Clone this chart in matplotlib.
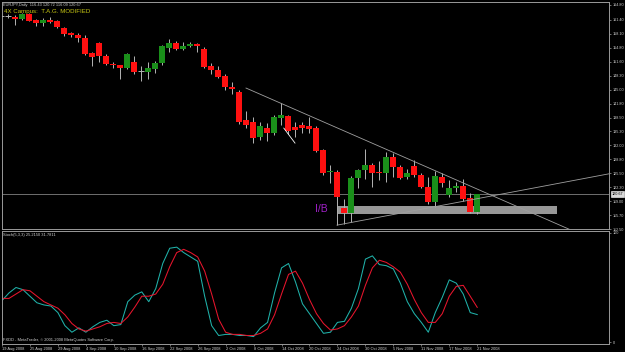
import matplotlib.pyplot as plt
import matplotlib.transforms as mtransforms
from matplotlib.patches import Rectangle

# EURJPY daily bars, 19 Aug 2008 .. 21 Nov 2008
opens = [162.23, 162.23, 162.00, 161.53, 162.70, 161.30, 160.59, 161.30, 161.06, 159.43,
         158.26, 157.79, 157.09, 153.59, 155.92, 152.88, 151.01, 150.78, 150.08, 151.48,
         149.38, 149.15, 149.85, 151.25, 154.75, 155.92, 154.52, 155.22, 155.69, 154.52,
         150.55, 149.61, 148.21, 145.64, 144.47, 137.93, 137.46, 134.00, 136.00, 134.89,
         138.40, 138.87, 136.30, 136.76, 136.50, 136.06, 130.92, 125.78, 125.78, 117.37,
         116.19, 124.38, 126.25, 127.42, 125.78, 125.55, 129.29, 126.95, 124.61, 127.18,
         125.08, 122.28, 118.77, 124.61, 120.41, 122.04, 122.51, 119.71, 116.43]
highs = [162.50, 162.70, 162.46, 162.95, 162.95, 161.53, 161.76, 162.00, 161.30, 159.66,
         158.50, 158.26, 157.79, 153.82, 156.10, 153.35, 151.48, 150.90, 153.59, 152.88,
         150.55, 151.48, 151.70, 155.45, 156.85, 156.39, 156.15, 156.15, 155.92, 154.99,
         151.25, 150.55, 148.68, 146.81, 144.94, 140.00, 138.63, 137.50, 137.20, 139.10,
         141.90, 139.10, 137.50, 137.46, 138.63, 136.50, 131.16, 127.42, 126.20, 119.47,
         124.85, 126.48, 131.16, 127.88, 128.35, 130.45, 130.22, 127.42, 126.48, 128.58,
         125.55, 124.61, 126.01, 125.55, 123.90, 123.44, 124.15, 120.87, 120.72]
lows = [161.90, 161.76, 160.13, 161.30, 161.00, 159.89, 159.89, 160.59, 159.43, 157.55,
        157.32, 156.15, 153.12, 150.55, 151.48, 150.78, 150.08, 147.51, 149.85, 148.68,
        147.04, 147.51, 148.90, 150.78, 153.82, 154.29, 154.29, 154.99, 153.82, 150.08,
        148.68, 147.75, 144.94, 144.00, 137.00, 136.06, 132.50, 133.30, 133.00, 134.43,
        136.76, 134.66, 134.00, 134.89, 134.89, 130.45, 125.08, 123.21, 113.40, 113.60,
        114.10, 122.04, 124.15, 122.28, 123.90, 123.44, 124.61, 124.15, 124.15, 124.61,
        122.04, 118.30, 117.60, 122.28, 119.94, 121.11, 119.00, 116.19, 116.09]
closes = [162.23, 162.23, 161.53, 162.70, 161.06, 160.59, 161.30, 160.83, 159.66, 158.02,
          157.79, 157.09, 153.35, 152.65, 152.88, 151.01, 150.78, 150.08, 153.35, 149.15,
          149.38, 150.08, 151.25, 155.22, 155.92, 154.52, 155.22, 155.69, 155.22, 150.31,
          149.61, 147.98, 145.64, 145.17, 137.46, 136.76, 133.73, 136.50, 135.00, 138.63,
          139.10, 135.36, 135.50, 136.06, 135.83, 130.69, 125.55, 126.01, 119.94, 116.19,
          124.38, 126.25, 127.42, 125.55, 125.55, 129.29, 126.95, 124.38, 125.55, 125.08,
          122.28, 118.77, 124.85, 123.21, 122.04, 122.51, 119.47, 116.43, 120.67]

# Stochastic(5,3,3) main and signal lines
stoch_main = [38, 45, 50, 48, 42, 36, 34, 33, 27, 15, 9, 13, 9, 14, 18, 20, 15, 16, 37, 43,
              46, 37, 49, 72, 86, 87, 82, 78, 74, 42, 15, 6, 7, 7, 6, 6, 5, 13, 18, 45,
              68, 72, 55, 35, 26, 17, 8, 9, 18, 19, 31, 49, 76, 79, 71, 70, 67, 54, 37, 26,
              18, 9, 27, 41, 57, 54, 44, 27, 25.2]
stoch_signal = [40, 40, 44, 48, 47, 42, 37, 34, 31, 25, 17, 12, 10, 12, 14, 17, 18, 17, 23, 32,
                42, 42, 44, 53, 69, 82, 85, 82, 78, 65, 44, 21, 9, 7, 7, 6, 6, 8, 12, 25,
                44, 62, 65, 54, 39, 26, 17, 11, 12, 15, 23, 33, 52, 68, 75, 73, 69, 64, 53, 39,
                27, 18, 18, 26, 42, 51, 52, 42, 31.8]

date_idx = [0, 4, 8, 12, 16, 20, 24, 28, 32, 36, 40, 44, 48, 52, 56, 60, 64, 68]
date_labels = ['19 Aug 2008', '25 Aug 2008', '29 Aug 2008', '4 Sep 2008', '10 Sep 2008',
               '16 Sep 2008', '22 Sep 2008', '26 Sep 2008', '2 Oct 2008', '8 Oct 2008',
               '14 Oct 2008', '20 Oct 2008', '24 Oct 2008', '30 Oct 2008', '5 Nov 2008',
               '11 Nov 2008', '17 Nov 2008', '21 Nov 2008']
price_ticks = [164.80, 161.40, 158.10, 154.80, 151.60, 148.30, 145.00, 141.80, 138.50,
               135.30, 132.00, 128.80, 125.50, 122.30, 119.00, 115.70, 112.50]
last_price = 120.67

# hand-drawn objects (bar index, price)
down_line = ([35.0, 82.0], [145.41, 111.85])
up_line = ([48.0, 86.9], [113.40, 125.40])
short_line = ([40.4, 42.0], [136.06, 132.56])
ib_box = (48.1, 115.97, 31.3, 1.87)

plt.rcParams['font.family'] = ['Liberation Sans', 'DejaVu Sans']

BG = 'black'
FRAME = '#9a9a9a'
TXT = '#d0d0d0'
UP = '#1a8f1a'
DN = '#ff1010'
WICK = '#b4b4b4'

W, H = 625, 352
fig = plt.figure(figsize=(W / 100, H / 100), dpi=100, facecolor=BG)
ax = fig.add_axes([2 / W, 1 - 229 / H, 607 / W, 227 / H], facecolor=BG)
ax2 = fig.add_axes([2 / W, 1 - 344 / H, 607 / W, 113 / H], facecolor=BG)

# background objects
ax.add_patch(Rectangle(ib_box[:2], ib_box[2], ib_box[3], facecolor='#979797',
                       edgecolor='none', zorder=1))
ax.axhline(last_price, color='#808080', lw=0.6, zorder=1)

# candles
for i in range(len(opens)):
    o, h, l, c = opens[i], highs[i], lows[i], closes[i]
    ax.vlines(i, l, h, color=WICK, lw=0.7, zorder=3)
    if abs(c - o) < 0.05:
        ax.hlines(o, i - 0.36, i + 0.36, color=WICK, lw=0.7, zorder=4)
    else:
        ax.bar(i, c - o, bottom=o, width=0.72, color=UP if c > o else DN,
               linewidth=0, zorder=4)

# trend lines
ax.plot(*down_line, color='#a0a0a0', lw=0.6, zorder=5)
ax.plot(*up_line, color='#a0a0a0', lw=0.6, zorder=5)
ax.plot(*short_line, color='white', lw=0.6, zorder=5)
ax.text(44.86, 117.13, 'I/B', color='#a020c8', fontsize=7.5, va='center', ha='left', zorder=6)

# stochastic
ax2.plot(range(len(stoch_main)), stoch_main, color='#20b2aa', lw=0.75)
ax2.plot(range(len(stoch_signal)), stoch_signal, color='#e8152d', lw=0.75)

for a in (ax, ax2):
    a.set_xlim(0.143, 86.857)
    for s in a.spines.values():
        s.set_color(FRAME)
        s.set_linewidth(0.7)
    a.yaxis.tick_right()

ax.set_ylim(112.57, 165.50)
ax.set_yticks(price_ticks)
ax.set_yticklabels([f'{p:.2f}' for p in price_ticks])
ax.set_xticks([])
ax.tick_params(axis='y', colors=FRAME, labelcolor=TXT, labelsize=2.7, length=1.5,
               width=0.5, pad=1)

# current price tag
trans = mtransforms.blended_transform_factory(ax.transAxes, ax.transData)
ax.text(1.004, last_price, f'{last_price:.2f}', transform=trans, fontsize=2.7, color='black',
        va='center', ha='left', clip_on=False,
        bbox=dict(facecolor='#d8d8d8', edgecolor='white', pad=0.4, linewidth=0.4))

ax2.set_ylim(-1.8, 101.8)
ax2.set_yticks([0, 100])
ax2.set_yticklabels(['0', '100'])
ax2.tick_params(axis='y', colors=FRAME, labelcolor=TXT, labelsize=2.7, length=1.5,
                width=0.5, pad=1)
ax2.set_xticks(date_idx)
ax2.set_xticklabels(date_labels, ha='left')
ax2.tick_params(axis='x', colors=FRAME, labelcolor=TXT, labelsize=2.9, length=1.5,
                width=0.5, pad=1)

fig.text(3 / W, 1 - 5 / H, 'EURJPY,Daily  116.43 120.72 116.09 120.67', color=TXT,
         fontsize=2.8, va='center')
fig.text(4 / W, 1 - 12 / H, '4X Campus:  T.A.G. MODIFIED', color='#c8c814',
         fontsize=4.4, va='center')
fig.text(3 / W, 1 - 235 / H, 'Stoch(5,3,3) 25.2150 31.7811', color=TXT,
         fontsize=2.9, va='center')
fig.text(3 / W, 1 - 340 / H, 'FXDD - MetaTrader, \u00a9 2001-2008 MetaQuotes Software Corp.',
         color=TXT, fontsize=2.9, va='center')

fig.savefig('out.png', dpi=100, facecolor=BG)
